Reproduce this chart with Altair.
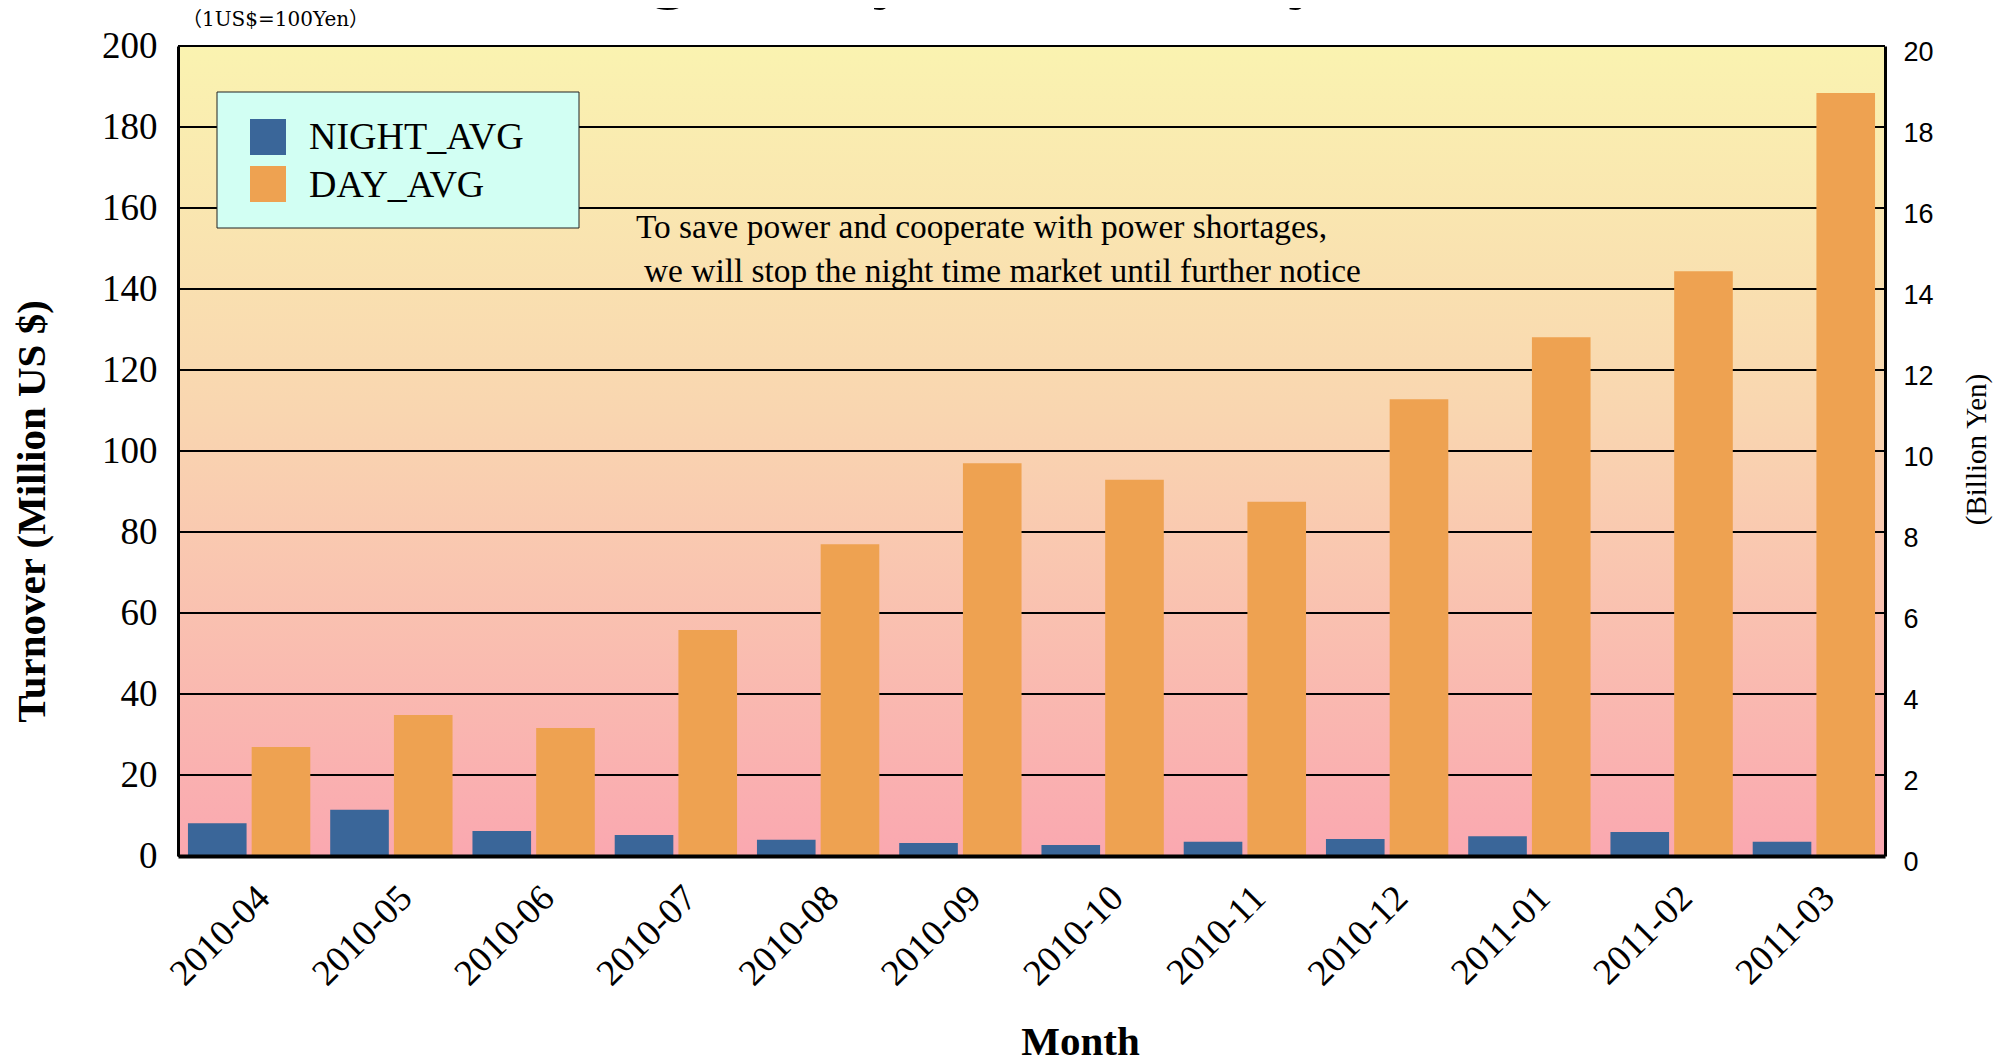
import altair as alt
import pandas as pd

# ---- data ----
months = ["2010-04", "2010-05", "2010-06", "2010-07", "2010-08", "2010-09",
          "2010-10", "2010-11", "2010-12", "2011-01", "2011-02", "2011-03"]
night_avg = [8.1, 11.4, 6.2, 5.2, 4.0, 3.2, 2.7, 3.5, 4.2, 4.9, 5.9, 3.5]
day_avg = [26.9, 34.8, 31.6, 55.8, 77.0, 97.0, 92.9, 87.5, 112.8, 128.1, 144.4, 188.4]
series = ["NIGHT_AVG", "DAY_AVG"]
series_colors = ["#3A6699", "#EEA251"]
usd_ticks = [0, 20, 40, 60, 80, 100, 120, 140, 160, 180, 200]
yen_ticks = [0, 2, 4, 6, 8, 10, 12, 14, 16, 18, 20]
title_text = "Average Daily Turnover by Month"
unit_note = "（1US$=100Yen）"
note_lines = ["To save power and cooperate with power shortages,",
              "we will stop the night time market until further notice"]

W, H = 1707, 810
SERIF = "Liberation Serif"
SANS = "Liberation Sans"

rows = []
for m, n, d in zip(months, night_avg, day_avg):
    rows.append({"month": m, "series": series[0], "value": n})
    rows.append({"month": m, "series": series[1], "value": d})
df = pd.DataFrame(rows)

gradient = alt.LinearGradient(
    gradient="linear", x1=0, y1=0, x2=0, y2=1,
    stops=[alt.GradientStop(color="#FAF3B0", offset=0),
           alt.GradientStop(color="#F9D6B0", offset=0.45),
           alt.GradientStop(color="#FAA8B0", offset=1)])

one = alt.Data(values=[{}])

bg = alt.Chart(one).mark_rect(fill=gradient).encode(
    x=alt.value(0), x2=alt.value(W), y=alt.value(0), y2=alt.value(H))

grid = alt.Chart(pd.DataFrame({"value": usd_ticks})).mark_rule(
    color="black", strokeWidth=2).encode(
    y=alt.Y("value:Q", scale=alt.Scale(domain=[0, 200]), axis=None))

bars = alt.Chart(df).mark_bar(strokeWidth=0).encode(
    x=alt.X("month:N", sort=months,
            scale=alt.Scale(paddingInner=0.14, paddingOuter=0.07),
            axis=alt.Axis(title="Month", titleFont=SERIF, titleFontSize=41,
                          titleFontWeight="bold", titleColor="black",
                          titleX=902, titleY=198, titleAlign="center",
                          titleBaseline="alphabetic",
                          labelFont=SERIF, labelFontSize=37, labelColor="black",
                          labelAngle=315, labelAlign="right", labelBaseline="middle",
                          labelPadding=36, labelOffset=15,
                          ticks=False, tickSize=0, grid=False,
                          domainColor="black", domainWidth=4, zindex=1)),
    xOffset=alt.XOffset("series:N", sort=series,
                        scale=alt.Scale(paddingInner=0.08, paddingOuter=0)),
    y=alt.Y("value:Q", scale=alt.Scale(domain=[0, 200]),
            axis=alt.Axis(values=usd_ticks, title="Turnover (Million US $)",
                          titleFont=SERIF, titleFontSize=41, titleFontWeight="bold",
                          titleColor="black", titleAngle=270, titleX=-146, titleY=465,
                          titleAlign="center", titleBaseline="middle",
                          labelFont=SERIF, labelFontSize=37, labelColor="black",
                          labelPadding=21, ticks=False, tickSize=0, grid=False,
                          domainColor="black", domainWidth=3, zindex=1)),
    color=alt.Color("series:N", sort=series,
                    scale=alt.Scale(domain=series, range=series_colors), legend=None),
)

yen = alt.Chart(pd.DataFrame({"yen": yen_ticks})).mark_tick(opacity=0).encode(
    y=alt.Y("yen:Q", scale=alt.Scale(domain=[0, 20]),
            axis=alt.Axis(orient="right", values=yen_ticks, title="(Billion Yen)",
                          titleFont=SERIF, titleFontSize=29, titleFontWeight="normal",
                          titleColor="black", titleAngle=270, titleX=91, titleY=403,
                          titleAlign="center", titleBaseline="middle",
                          labelFont=SANS, labelFontSize=27, labelColor="black",
                          labelPadding=18, labelOffset=6,
                          ticks=False, tickSize=0, grid=False,
                          domainColor="black", domainWidth=3, zindex=1)))

note1 = alt.Chart(one).mark_text(
    text=note_lines[0], align="left", baseline="alphabetic", font=SERIF,
    fontSize=33.4, color="black").encode(x=alt.value(458), y=alt.value(192))
note2 = alt.Chart(one).mark_text(
    text=note_lines[1], align="left", baseline="alphabetic", font=SERIF,
    fontSize=33.4, color="black").encode(x=alt.value(466), y=alt.value(236))

unit = alt.Chart(one).mark_text(
    text=unit_note, align="left", baseline="alphabetic",
    font="'DejaVu Serif', 'Noto Sans CJK JP'",
    fontSize=20, color="black").encode(x=alt.value(4), y=alt.value(-20))

title = alt.Chart(one).mark_text(
    text=title_text, align="center", baseline="alphabetic", font=SERIF,
    fontSize=75, fontWeight="bold", color="black").encode(
    x=alt.value(832), y=alt.value(-52))

legend_box = alt.Chart(one).mark_rect(
    fill="#D2FFF3", stroke="#222222", strokeWidth=1).encode(
    x=alt.value(39), x2=alt.value(401), y=alt.value(46), y2=alt.value(182))

legend_layers = [legend_box]
for i, (s, c) in enumerate(zip(series, series_colors)):
    d = alt.Data(values=[{"series": s}])
    legend_layers.append(alt.Chart(d).mark_rect(color=c).encode(
        x=alt.value(72), x2=alt.value(108),
        y=alt.value(73 + 47 * i), y2=alt.value(109 + 47 * i)))
    legend_layers.append(alt.Chart(d).mark_text(
        align="left", baseline="alphabetic", font=SERIF, fontSize=38,
        color="black").encode(
        text=alt.Text("series:N"), x=alt.value(131), y=alt.value(103 + 48 * i)))

chart = alt.layer(bg, grid, bars, yen, note1, note2, unit, title,
                  *legend_layers).resolve_scale(y="independent").properties(
    width=W, height=H,
    autosize=alt.AutoSizeParams(type="none"),
    padding={"left": 170, "top": 38, "right": 119, "bottom": 199},
    background="white",
).configure_view(strokeWidth=0)

chart.save("out.html", embed_options={"renderer": "svg", "actions": False})
